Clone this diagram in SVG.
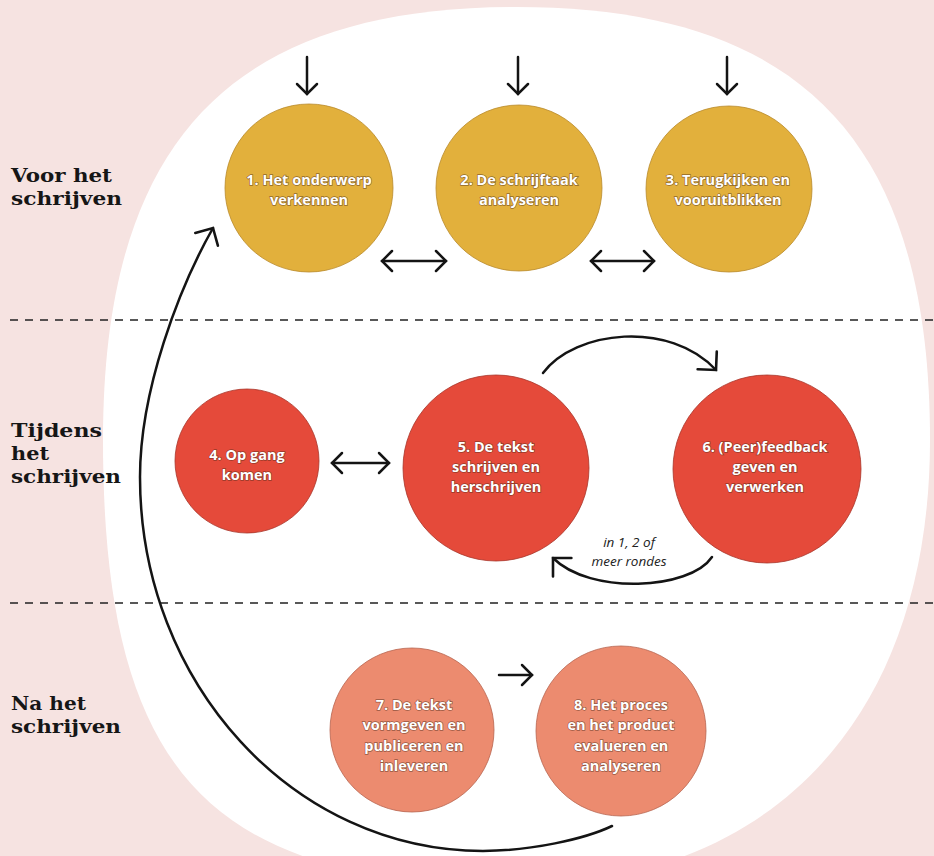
<svg xmlns="http://www.w3.org/2000/svg" width="934" height="856" viewBox="0 0 934 856">
<style>
.bg{fill:#f6e3e1}
.halo{fill:#ffffff}
.y{fill:#e2b03c;stroke:#b98a2c;stroke-width:0.8}
.r{fill:#e54a3a;stroke:#a8352a;stroke-width:0.8}
.s{fill:#ec8b6f;stroke:#b8654f;stroke-width:0.8}
.t{font-family:"Open Sans","Liberation Sans",sans-serif;font-weight:700;font-size:14.5px;fill:#ffffff;text-anchor:middle;stroke:#4a2a18;stroke-opacity:0.55;stroke-width:1.4px;paint-order:stroke}
.lab{font-family:"DejaVu Serif","Liberation Serif",serif;font-weight:700;font-size:19px;fill:#161616}
.note{font-family:"Open Sans","Liberation Sans",sans-serif;font-style:italic;font-size:13.5px;fill:#222;text-anchor:middle}
.ln{fill:none;stroke:#141414;stroke-width:2.5;stroke-linecap:round}
.dash{fill:none;stroke:#222;stroke-width:1.6;stroke-dasharray:8 7}
</style>
<defs>
<marker id="ah" viewBox="-20 -20 40 40" markerWidth="40" markerHeight="40" refX="0" refY="0" orient="auto-start-reverse" markerUnits="userSpaceOnUse">
<path d="M -10 -10 L 0 0 L -10 10" fill="none" stroke="#141414" stroke-width="2.5" stroke-linecap="round" stroke-linejoin="miter"/>
</marker>
<marker id="ahc" viewBox="-20 -20 40 40" markerWidth="40" markerHeight="40" refX="0" refY="0" orient="auto" markerUnits="userSpaceOnUse">
<path d="M -13 -13 L 0 0 L -13 13" fill="none" stroke="#141414" stroke-width="2.6" stroke-linecap="round" stroke-linejoin="miter"/>
</marker>
</defs>

<rect class="bg" x="0" y="0" width="934" height="856"/>
<path class="halo" d="M 516 7 C 800 7, 930 140, 930 440 C 930 716, 773 885, 516 885 C 210 885, 103 774, 103 440 C 103 140, 232 7, 516 7 Z"/>

<g id="dividers">
<line class="dash" x1="10" y1="320" x2="934" y2="320"/>
<line class="dash" x1="10" y1="603" x2="934" y2="603"/>
</g>

<g id="phase-labels">
<g id="label-voor"><text class="lab" x="11" y="182" textLength="101" lengthAdjust="spacingAndGlyphs">Voor het</text><text class="lab" x="11" y="205" textLength="111" lengthAdjust="spacingAndGlyphs">schrijven</text></g>
<g id="label-tijdens"><text class="lab" x="11" y="437" textLength="91" lengthAdjust="spacingAndGlyphs">Tijdens</text><text class="lab" x="11" y="460" textLength="38" lengthAdjust="spacingAndGlyphs">het</text><text class="lab" x="11" y="483" textLength="110" lengthAdjust="spacingAndGlyphs">schrijven</text></g>
<g id="label-na"><text class="lab" x="11" y="710" textLength="75" lengthAdjust="spacingAndGlyphs">Na het</text><text class="lab" x="11" y="733" textLength="110" lengthAdjust="spacingAndGlyphs">schrijven</text></g>
</g>

<g id="connectors">
<line class="ln" x1="307" y1="57" x2="307" y2="94" marker-end="url(#ah)"/>
<line class="ln" x1="518" y1="57" x2="518" y2="94" marker-end="url(#ah)"/>
<line class="ln" x1="727" y1="57" x2="727" y2="94" marker-end="url(#ah)"/>
<line class="ln" x1="382" y1="261" x2="446" y2="261" marker-start="url(#ah)" marker-end="url(#ah)"/>
<line class="ln" x1="591" y1="261" x2="654" y2="261" marker-start="url(#ah)" marker-end="url(#ah)"/>
<line class="ln" x1="332" y1="463" x2="389" y2="463" marker-start="url(#ah)" marker-end="url(#ah)"/>
<line class="ln" x1="499" y1="675" x2="532" y2="675" marker-end="url(#ah)"/>
<path class="ln" d="M 543 373 C 575 330, 670 320, 716 370" marker-end="url(#ahc)"/>
<path class="ln" d="M 712 557 C 690 590, 590 595, 553 558" marker-end="url(#ahc)"/>
<path class="ln" d="M 612 826 C 585 839, 530 851, 483 851 C 294 851, 140 684, 140 477 C 140 390, 179 288, 213 228" marker-end="url(#ahc)"/>
</g>

<g id="n1"><circle class="y" cx="309" cy="188" r="84"/><text class="t" x="309" y="185">1. Het onderwerp</text><text class="t" x="309" y="205">verkennen</text></g>
<g id="n2"><circle class="y" cx="519" cy="188" r="83"/><text class="t" x="519" y="185">2. De schrijftaak</text><text class="t" x="519" y="205">analyseren</text></g>
<g id="n3"><circle class="y" cx="729" cy="189" r="83"/><text class="t" x="728" y="185">3. Terugkijken en</text><text class="t" x="728" y="205">vooruitblikken</text></g>

<g id="n4"><circle class="r" cx="247" cy="461" r="72"/><text class="t" x="247" y="460">4. Op gang</text><text class="t" x="247" y="480">komen</text></g>
<g id="n5"><circle class="r" cx="496" cy="468" r="93"/><text class="t" x="496" y="452">5. De tekst</text><text class="t" x="496" y="472">schrijven en</text><text class="t" x="496" y="492">herschrijven</text></g>
<g id="n6"><circle class="r" cx="767" cy="469" r="94"/><text class="t" x="765" y="452">6. (Peer)feedback</text><text class="t" x="765" y="472">geven en</text><text class="t" x="765" y="492">verwerken</text></g>

<g id="note"><text class="note" x="629" y="547">in 1, 2 of</text><text class="note" x="629" y="566">meer rondes</text></g>

<g id="n7"><circle class="s" cx="412" cy="730" r="82"/><text class="t" x="414" y="710">7. De tekst</text><text class="t" x="414" y="730">vormgeven en</text><text class="t" x="414" y="751">publiceren en</text><text class="t" x="414" y="771">inleveren</text></g>
<g id="n8"><circle class="s" cx="621" cy="731" r="85"/><text class="t" x="621" y="710">8. Het proces</text><text class="t" x="621" y="730">en het product</text><text class="t" x="621" y="751">evalueren en</text><text class="t" x="621" y="771">analyseren</text></g>
</svg>
